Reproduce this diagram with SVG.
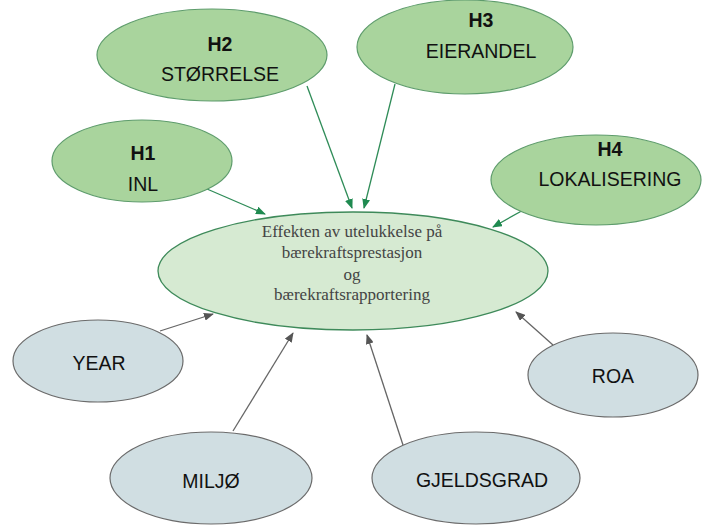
<svg xmlns="http://www.w3.org/2000/svg" width="719" height="525" viewBox="0 0 719 525">
<style>
.h{fill:#a9d49d;stroke:#5e9c6c;stroke-width:1.2}
.c{fill:#d6ead2;stroke:#3e8a5a;stroke-width:1.3}
.v{fill:#d0dee2;stroke:#6b6b6b;stroke-width:1.2}
.t{font-family:"Liberation Sans",Arial,sans-serif;font-size:19.5px;fill:#111;text-anchor:middle}
.b{font-weight:bold}
.s{font-family:"Liberation Serif","Times New Roman",serif;font-size:17px;fill:#444;text-anchor:middle}
.ga{stroke:#2f8c58;stroke-width:1.3;fill:none;marker-end:url(#ag)}
.ka{stroke:#666;stroke-width:1.3;fill:none;marker-end:url(#ak)}
</style>
<defs>
<marker id="ag" markerWidth="10" markerHeight="8" refX="9" refY="4" orient="auto" markerUnits="userSpaceOnUse"><path d="M0,0 L10,4 L0,8 z" fill="#1f8a50"/></marker>
<marker id="ak" markerWidth="10" markerHeight="8" refX="9" refY="4" orient="auto" markerUnits="userSpaceOnUse"><path d="M0,0 L10,4 L0,8 z" fill="#555"/></marker>
</defs>
<rect width="719" height="525" fill="#fff"/>
<g id="connectors">
<line class="ga" x1="207" y1="189" x2="265" y2="214"/>
<line class="ga" x1="307" y1="86" x2="352" y2="208"/>
<line class="ga" x1="395" y1="84" x2="364" y2="208"/>
<line class="ga" x1="527" y1="208" x2="493" y2="227"/>
<line class="ka" x1="160" y1="331" x2="213" y2="314"/>
<line class="ka" x1="233" y1="431" x2="293" y2="333"/>
<line class="ka" x1="403" y1="445" x2="367" y2="335"/>
<line class="ka" x1="553" y1="345" x2="516" y2="312"/>
</g>
<g id="center">
<ellipse class="c" cx="353" cy="271" rx="195" ry="59"/>
<text class="s" x="352" y="237">Effekten av utelukkelse på</text>
<text class="s" x="352" y="258">bærekraftsprestasjon</text>
<text class="s" x="352" y="280">og</text>
<text class="s" x="352" y="300">bærekraftsrapportering</text>
</g>
<g id="h1">
<ellipse class="h" cx="142" cy="161" rx="90" ry="41"/>
<text class="t b" x="143" y="160">H1</text>
<text class="t" x="143" y="191">INL</text>
</g>
<g id="h2">
<ellipse class="h" cx="212" cy="55" rx="115" ry="46"/>
<text class="t b" x="220" y="51">H2</text>
<text class="t" x="220" y="81">STØRRELSE</text>
</g>
<g id="h3">
<ellipse class="h" cx="465" cy="47" rx="108" ry="47"/>
<text class="t b" x="481" y="27">H3</text>
<text class="t" x="481" y="58">EIERANDEL</text>
</g>
<g id="h4">
<ellipse class="h" cx="596" cy="180" rx="105" ry="45"/>
<text class="t b" x="610" y="156">H4</text>
<text class="t" x="610" y="186">LOKALISERING</text>
</g>
<g id="year">
<ellipse class="v" cx="98" cy="361" rx="85" ry="41"/>
<text class="t" x="99" y="370">YEAR</text>
</g>
<g id="miljo">
<ellipse class="v" cx="211" cy="478" rx="101" ry="46"/>
<text class="t" x="211" y="488">MILJØ</text>
</g>
<g id="gjeldsgrad">
<ellipse class="v" cx="476" cy="478" rx="104" ry="46"/>
<text class="t" x="482" y="487">GJELDSGRAD</text>
</g>
<g id="roa">
<ellipse class="v" cx="613" cy="375" rx="85" ry="42"/>
<text class="t" x="613" y="383">ROA</text>
</g>
</svg>
